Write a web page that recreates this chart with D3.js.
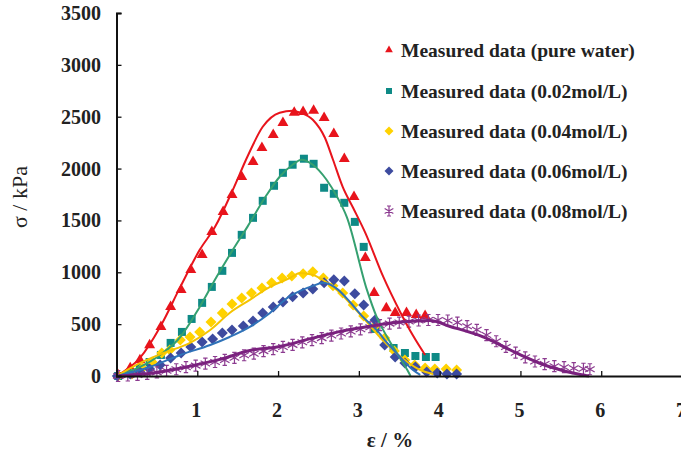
<!DOCTYPE html>
<html>
<head>
<meta charset="utf-8">
<script src="https://cdn.jsdelivr.net/npm/d3@7"></script>
<style>
  body { margin: 0; background: #fff; }
  svg { display: block; font-family: "Liberation Serif", "Times New Roman", serif; }
</style>
</head>
<body>
<script>
// measured points (strain %, stress kPa)
var waterE = [0.02,0.17,0.29,0.41,0.55,0.67,0.80,0.92,1.06,1.18,1.32,1.43,1.55,1.69,1.80,1.94,2.06,2.20,2.31,2.44,2.57,2.69,2.82,2.94,3.08,3.19,3.34,3.45,3.59,3.71,3.82];
var waterS = [10,77,154,299,473,666,830,1023,1168,1390,1583,1747,1921,2066,2201,2326,2442,2539,2548,2558,2490,2336,2095,1728,1139,801,656,608,608,589,579];

var m02E = [0.02,0.17,0.29,0.41,0.55,0.67,0.81,0.93,1.06,1.18,1.31,1.43,1.55,1.69,1.81,1.95,2.06,2.18,2.32,2.44,2.57,2.69,2.82,2.95,3.06,3.20,3.43,3.57,3.70,3.83,3.95];
var m02S = [0,29,77,135,203,319,425,550,705,859,1014,1187,1361,1525,1689,1834,1959,2037,2095,2046,1815,1757,1670,1486,1245,454,270,222,193,183,183];

var m04E = [0.02,0.19,0.32,0.44,0.56,0.66,0.79,0.91,1.03,1.17,1.31,1.43,1.55,1.67,1.80,1.92,2.05,2.17,2.31,2.43,2.56,2.68,2.80,2.93,3.06,3.20,3.32,3.44,3.57,3.69,3.82,3.94,4.08,4.21];
var m04S = [0,19,77,135,222,251,348,376,425,521,608,695,753,801,849,898,946,965,985,1004,946,869,801,685,579,483,367,241,154,106,77,68,68,58];

var m06E = [0.01,0.17,0.29,0.41,0.54,0.67,0.80,0.92,1.06,1.19,1.31,1.43,1.57,1.69,1.81,1.94,2.06,2.18,2.31,2.43,2.57,2.69,2.82,2.95,3.06,3.20,3.32,3.45,3.57,3.70,3.84,3.97,4.09,4.21];
var m06S = [0,19,39,68,106,174,222,280,328,357,415,444,483,531,608,666,714,763,801,840,898,927,917,792,685,541,299,183,125,87,39,29,19,19];

var m08E = [0.02,0.14,0.26,0.38,0.50,0.62,0.74,0.86,0.98,1.10,1.22,1.34,1.46,1.58,1.70,1.82,1.94,2.06,2.18,2.30,2.42,2.54,2.66,2.78,2.90,3.02,3.14,3.26,3.38,3.50,3.62,3.74,3.86,3.98,4.10,4.22,4.34,4.46,4.58,4.70,4.82,4.94,5.06,5.18,5.30,5.42,5.54,5.66,5.78,5.86];
var m08S = [0,5,10,20,35,50,65,85,100,120,135,155,175,200,215,240,260,280,300,325,345,365,390,410,430,450,470,490,505,515,525,535,540,540,535,515,480,445,395,335,280,225,180,140,115,95,85,75,70,65];

// fitted curves
var fitWaterE = [0,0.29,0.54,0.79,1.03,1.22,1.44,1.62,1.81,2.02,2.18,2.27,2.43,2.58,2.68,2.80,2.93,3.08,3.30,3.51,3.67,3.82];
var fitWaterS = [0,174,473,859,1216,1438,1795,2114,2403,2539,2558,2539,2471,2297,2085,1824,1620,1380,960,620,390,203];

var fit02E = [0,0.29,0.54,0.79,1.03,1.24,1.44,1.62,1.86,2.02,2.18,2.29,2.43,2.60,2.73,2.85,3.10,3.22,3.35,3.47,3.60,3.64];
var fit02S = [0,87,203,376,666,956,1216,1438,1747,1921,2037,2085,2037,1892,1728,1535,830,570,376,222,58,0];

var fit04E = [0,0.29,0.58,0.91,1.16,1.40,1.65,1.90,2.15,2.27,2.43,2.61,2.77,2.93,3.10,3.26,3.42,3.60,3.76,3.92];
var fit04S = [0,125,222,319,444,608,734,859,946,994,975,898,801,666,521,376,251,135,58,19];

var fit06E = [0,0.41,0.79,1.16,1.40,1.65,1.90,2.15,2.27,2.43,2.56,2.73,2.89,3.05,3.22,3.35,3.51,3.67,3.76];
var fit06S = [0,87,203,299,376,473,608,772,820,869,898,840,714,570,444,319,183,58,10];

var fit08E = [0,0.41,0.91,1.28,1.65,2.02,2.40,2.77,3.14,3.51,3.88,4.12,4.53,4.95,5.36,5.77,5.85];
var fit08S = [0,25,95,160,245,285,360,430,480,520,535,480,380,222,89,10,0];

var legendLabels = ["Measured data (pure water)","Measured data (0.02mol/L)","Measured data (0.04mol/L)","Measured data (0.06mol/L)","Measured data (0.08mol/L)"];
var yTicks = [0,500,1000,1500,2000,2500,3000,3500];
var xTicks = [1,2,3,4,5,6,7];

var width = 681, height = 459;
var plotL = 116.5, plotR = 682, plotT = 13, plotB = 376;

var x = d3.scaleLinear().domain([0, 7]).range([plotL, plotR]);
var y = d3.scaleLinear().domain([0, 3500]).range([plotB, plotT]);

var svg = d3.select("body").append("svg")
    .attr("width", width)
    .attr("height", height);

// asterisk with caps, like the excel marker
function star(r) {
    var a = r * 0.87, b = r * 0.5, c = r * 0.4;
    return "M0," + (-r) + "L0," + r +
        "M" + (-a) + "," + (-b) + "L" + a + "," + b +
        "M" + (-a) + "," + b + "L" + a + "," + (-b) +
        "M" + (-c) + "," + (-r) + "L" + c + "," + (-r) +
        "M" + (-c) + "," + r + "L" + c + "," + r;
}

// excel diamond = square turned 45 degrees
function diamond(r) {
    return "M0," + (-r) + "L" + r + ",0L0," + r + "L" + (-r) + ",0Z";
}

var series = [
    {e: waterE, s: waterS, fe: fitWaterE, fs: fitWaterS, marker: "tri", fill: "#e8141c", line: "#e8141c", lw: 2},
    {e: m02E, s: m02S, fe: fit02E, fs: fit02S, marker: "sq", fill: "#0e8a86", line: "#35a070", lw: 2},
    {e: m04E, s: m04S, fe: fit04E, fs: fit04S, marker: "dia", fill: "#ffd200", line: "#f5c400", lw: 2},
    {e: m06E, s: m06S, fe: fit06E, fs: fit06S, marker: "dia", fill: "#3d4b9f", line: "#2f72b8", lw: 2},
    {e: m08E, s: m08S, fe: fit08E, fs: fit08S, marker: "star", fill: "#8c3b90", line: "#7a217e", lw: 3}
];

function markerPath(type, big) {
    if (type === "tri") return d3.symbol(d3.symbolTriangle, big ? 52 : 26)();
    if (type === "sq") return d3.symbol(d3.symbolSquare, big ? 64 : 36)();
    if (type === "dia") return diamond(big ? 5.5 : 4.5);
    return star(big ? 5.5 : 5);
}

function drawMarkers(g, type, col, cx, cy, big) {
    var p = g.append("path")
        .attr("transform", "translate(" + cx + "," + cy + ")")
        .attr("d", markerPath(type, big));
    if (type === "star") p.attr("fill", "none").attr("stroke", col).attr("stroke-width", 1.2);
    else p.attr("fill", col);
}

// markers
series.forEach(function (d) {
    var g = svg.append("g");
    d.e.forEach(function (v, i) {
        drawMarkers(g, d.marker, d.fill, x(v), y(d.s[i]), true);
    });
});

// fitted lines on top
var line = d3.line()
    .x(function (p) { return x(p[0]); })
    .y(function (p) { return y(p[1]); })
    .curve(d3.curveMonotoneX);

series.forEach(function (d) {
    svg.append("path")
        .datum(d3.zip(d.fe, d.fs))
        .attr("fill", "none")
        .attr("stroke", d.line)
        .attr("stroke-width", d.lw)
        .attr("d", line);
});

// axes
svg.append("g")
    .attr("transform", "translate(" + plotL + ",0)")
    .call(d3.axisRight(y).tickValues(yTicks).tickSize(5).tickFormat(""));
svg.append("g")
    .attr("transform", "translate(0," + plotB + ")")
    .call(d3.axisTop(x).tickValues(xTicks).tickSize(5).tickFormat(""));
svg.selectAll(".domain").attr("stroke", "#111").attr("stroke-width", 2);
svg.selectAll(".tick line").attr("stroke", "#111").attr("stroke-width", 1.3);

svg.append("g").selectAll("text")
    .data(yTicks)
    .enter().append("text")
    .attr("x", 101)
    .attr("y", function (d) { return y(d) + 7; })
    .attr("text-anchor", "end")
    .attr("font-size", 20)
    .attr("font-weight", "bold")
    .attr("fill", "#222")
    .text(function (d) { return d; });

svg.append("g").selectAll("text")
    .data(xTicks)
    .enter().append("text")
    .attr("x", function (d) { return x(d) - 1; })
    .attr("y", 417)
    .attr("text-anchor", "middle")
    .attr("font-size", 20)
    .attr("font-weight", "bold")
    .attr("fill", "#222")
    .text(function (d) { return d; });

svg.append("text")
    .attr("x", 390)
    .attr("y", 447)
    .attr("text-anchor", "middle")
    .attr("font-size", 21)
    .attr("font-weight", "bold")
    .attr("fill", "#222")
    .text("ε / %");

svg.append("text")
    .attr("transform", "translate(27,197) rotate(-90)")
    .attr("text-anchor", "middle")
    .attr("font-size", 22)
    .attr("fill", "#222")
    .text("σ / kPa");

// legend
var legendY = [50, 91, 131, 171, 211];
series.forEach(function (d, i) {
    var g = svg.append("g");
    drawMarkers(g, d.marker, d.fill, 389, legendY[i], false);
    g.append("text")
        .attr("x", 401)
        .attr("y", legendY[i] + 6.5)
        .attr("font-size", 19.5)
        .attr("font-weight", "bold")
        .attr("fill", "#222")
        .text(legendLabels[i]);
});
</script>
</body>
</html>
